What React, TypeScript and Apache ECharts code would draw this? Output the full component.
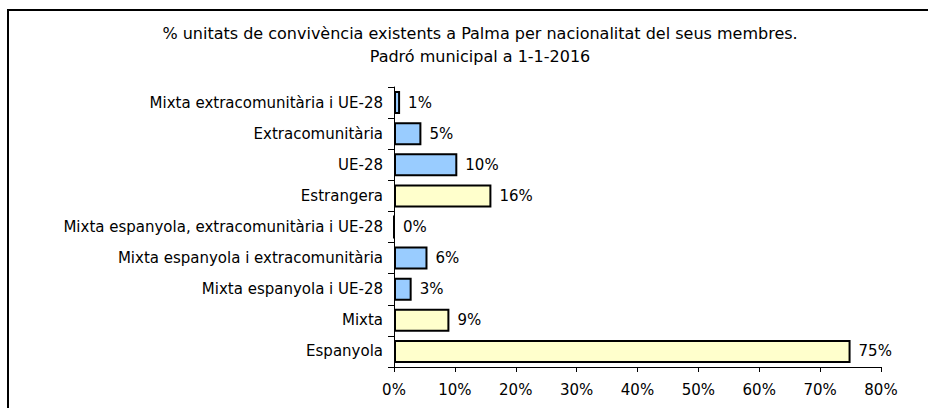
import React, { useEffect, useRef } from "react";
import * as echarts from "echarts";

const categories = [
  "Mixta extracomunitària i UE-28",
  "Extracomunitària",
  "UE-28",
  "Estrangera",
  "Mixta espanyola, extracomunitària i UE-28",
  "Mixta espanyola i extracomunitària",
  "Mixta espanyola i UE-28",
  "Mixta",
  "Espanyola",
];
const values = [1.0, 4.5, 10.4, 16.0, 0.0, 5.5, 2.9, 9.1, 75.0];
const groupTotals = ["Estrangera", "Mixta", "Espanyola"];
const titleLines = [
  "% unitats de convivència existents a Palma per nacionalitat del seus membres.",
  "Padró municipal a 1-1-2016",
];
const BLUE = "#99CCFF";
const YELLOW = "#FFFFCC";
const FONT = "DejaVu Sans";

export default function App() {
  const ref = useRef<HTMLDivElement>(null);
  useEffect(() => {
    document.body.style.margin = "0";
    const chart = echarts.init(ref.current!, null, { renderer: "svg" });
    chart.setOption({
      animation: false,
      backgroundColor: "#ffffff",
      title: {
        text: titleLines.join("\n"),
        left: 475,
        top: 17,
        textAlign: "center",
        textStyle: {
          fontFamily: FONT,
          fontSize: 16,
          fontWeight: "normal",
          color: "#000",
          lineHeight: 23,
        },
      },
      graphic: [
        {
          type: "rect",
          shape: { x: 8, y: 10, width: 1000, height: 1000 },
          style: { fill: "none", stroke: "#000", lineWidth: 2 },
          silent: true,
        },
      ],
      grid: { left: 394, right: 47, top: 87, bottom: 41 },
      xAxis: {
        type: "value",
        min: 0,
        max: 80,
        interval: 10,
        axisLine: { show: true, lineStyle: { color: "#000", width: 1 } },
        axisTick: { show: true, length: 5, lineStyle: { color: "#000" } },
        splitLine: { show: false },
        axisLabel: {
          formatter: "{value}%",
          fontFamily: FONT,
          fontSize: 15,
          color: "#000",
          margin: 15,
        },
      },
      yAxis: {
        type: "category",
        inverse: true,
        data: categories,
        axisLine: { show: true, lineStyle: { color: "#000", width: 1 } },
        axisTick: { show: true, length: 6, lineStyle: { color: "#000" } },
        axisLabel: {
          fontFamily: FONT,
          fontSize: 15,
          color: "#000",
          margin: 11,
        },
      },
      series: [
        {
          type: "bar",
          barWidth: 23,
          data: values.map((v, i) => ({
            value: v,
            itemStyle: {
              color: groupTotals.includes(categories[i]) ? YELLOW : BLUE,
              borderColor: "#000",
              borderWidth: 2,
            },
          })),
          label: {
            show: true,
            position: "right",
            distance: 8,
            fontFamily: FONT,
            fontSize: 15,
            color: "#000",
            formatter: (p: any) => Math.round(p.value) + "%",
          },
        },
      ],
    });
    return () => chart.dispose();
  }, []);
  return <div ref={ref} style={{ width: 928, height: 408 }} />;
}
